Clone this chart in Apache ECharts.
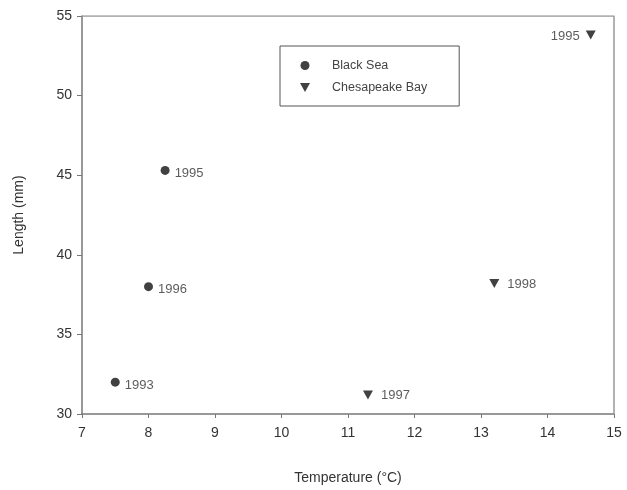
<!DOCTYPE html>
<html>
<head>
<meta charset="utf-8">
<script src="https://cdn.jsdelivr.net/npm/echarts@6/dist/echarts.min.js"></script>
<style>
  html, body { margin: 0; padding: 0; background: #fff; }
  #chart { width: 627px; height: 490px; }
</style>
</head>
<body>
<div id="chart"></div>
<script>
// Black Sea: temperature, length, year
var blackSeaTemp = [7.5, 8.0, 8.25];
var blackSeaLen = [32.0, 38.0, 45.3];
var blackSeaYear = ['1993', '1996', '1995'];

// Chesapeake Bay
var chesTemp = [11.3, 13.2, 14.65];
var chesLen = [31.2, 38.2, 53.8];
var chesYear = ['1997', '1998', '1995'];

var triDown = 'path://M0,0 L10,0 L5,9 Z';

function toPoints(xs, ys, names) {
    var arr = [];
    for (var i = 0; i < xs.length; i++) {
        arr.push({ value: [xs[i], ys[i]], name: names[i] });
    }
    return arr;
}

var chesData = toPoints(chesTemp, chesLen, chesYear);
// last 1995 label sits on the left of the marker
chesData[2].label = { position: 'left', distance: 6 };

var chart = echarts.init(document.getElementById('chart'));
var textColor = '#333';
var axisColor = '#777';
var font = 'Liberation Sans, Arial';

var option = {
    backgroundColor: '#fff',
    animation: false,
    grid: { left: 82, right: 13, top: 16, bottom: 76 },
    legend: {
        left: 280,
        top: 46,
        orient: 'vertical',
        padding: [13, 32, 12, 20],
        itemGap: 9,
        itemWidth: 10,
        itemHeight: 9,
        borderColor: '#555',
        borderWidth: 1,
        textStyle: { color: '#444', fontSize: 12.5, fontFamily: font, padding: [0, 0, 0, 17] },
        data: [
            { name: 'Black Sea', icon: 'circle' },
            { name: 'Chesapeake Bay', icon: triDown }
        ]
    },
    xAxis: {
        type: 'value',
        min: 7,
        max: 15,
        interval: 1,
        name: 'Temperature (°C)',
        nameLocation: 'middle',
        nameGap: 57,
        nameTextStyle: { color: textColor, fontSize: 14, fontFamily: font },
        axisLine: { show: true, lineStyle: { color: axisColor, width: 1.5 } },
        axisTick: { show: true, length: 4, lineStyle: { color: axisColor } },
        axisLabel: { color: textColor, fontSize: 14, margin: 12, fontFamily: font },
        splitLine: { show: false }
    },
    yAxis: {
        type: 'value',
        min: 30,
        max: 55,
        interval: 5,
        name: 'Length (mm)',
        nameLocation: 'middle',
        nameGap: 56,
        nameTextStyle: { color: textColor, fontSize: 14, fontFamily: font },
        axisLine: { show: true, lineStyle: { color: axisColor, width: 1.5 } },
        axisTick: { show: true, length: 5, lineStyle: { color: axisColor } },
        axisLabel: { color: textColor, fontSize: 14, margin: 10, fontFamily: font },
        splitLine: { show: false }
    },
    series: [
        {
            name: 'Black Sea',
            type: 'scatter',
            symbol: 'circle',
            symbolSize: 9,
            itemStyle: { color: '#111' },
            label: {
                show: true,
                position: 'right',
                distance: 5,
                offset: [0, 3],
                formatter: '{b}',
                color: '#333',
                fontSize: 13,
                fontFamily: font
            },
            data: toPoints(blackSeaTemp, blackSeaLen, blackSeaYear)
        },
        {
            name: 'Chesapeake Bay',
            type: 'scatter',
            symbol: triDown,
            symbolSize: [10, 9],
            itemStyle: { color: '#111' },
            label: {
                show: true,
                position: 'right',
                distance: 8,
                offset: [0, 1],
                formatter: '{b}',
                color: '#333',
                fontSize: 13,
                fontFamily: font
            },
            data: chesData
        },
        {
            // frame: top and right border of the plot box
            type: 'line',
            silent: true,
            symbol: 'none',
            lineStyle: { color: '#999', width: 1.5 },
            data: [[7, 55], [15, 55], [15, 30]],
            tooltip: { show: false }
        }
    ]
};

chart.setOption(option);
</script>
</body>
</html>
